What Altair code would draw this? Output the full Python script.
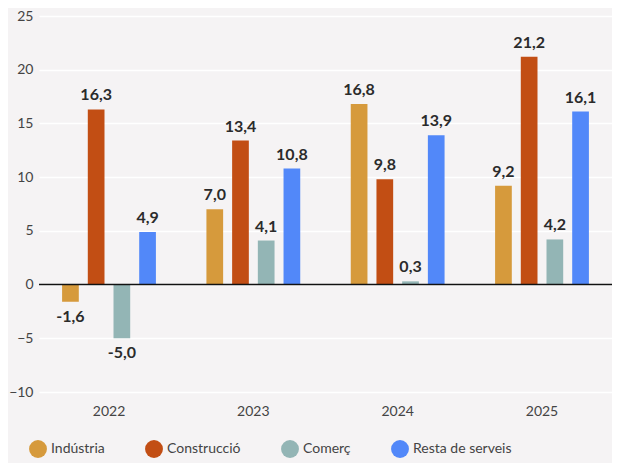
import altair as alt
import pandas as pd

years = ["2022", "2023", "2024", "2025"]
series = ["Indústria", "Construcció", "Comerç", "Resta de serveis"]
colors = ["#d69a3c", "#c24e14", "#93b5b5", "#5288f9"]

industria = [-1.6, 7.0, 16.8, 9.2]
construccio = [16.3, 13.4, 9.8, 21.2]
comerc = [-5.0, 4.1, 0.3, 4.2]
resta = [4.9, 10.8, 13.9, 16.1]

y_ticks = [-10, -5, 0, 5, 10, 15, 20, 25]

rows = []
for s, vals in zip(series, [industria, construccio, comerc, resta]):
    for yr, v in zip(years, vals):
        rows.append({"year": yr, "series": s, "value": v,
                     "label": f"{v:.1f}".replace(".", ",")})
df = pd.DataFrame(rows)

FONT = "Lato"

x = alt.X("year:N", sort=years,
          scale=alt.Scale(paddingInner=0.35, paddingOuter=0.16),
          axis=alt.Axis(title=None, labelAngle=0, domain=False, ticks=False,
                        labelPadding=12, labelFontSize=14, labelColor="#444444",
                        labelFont=FONT))
xoff = alt.XOffset("series:N", sort=series,
                   scale=alt.Scale(paddingInner=0.35, paddingOuter=0))
y = alt.Y("value:Q", scale=alt.Scale(domain=[-10, 25], nice=False),
          axis=alt.Axis(title=None, values=y_ticks, domain=False, ticks=False,
                        labelPadding=6, gridColor="white", gridWidth=1.5,
                        labelFontSize=14, labelColor="#444444", labelFont=FONT))
color = alt.Color("series:N", sort=series,
                  scale=alt.Scale(domain=series, range=colors),
                  legend=alt.Legend(title=None, orient="none", direction="horizontal",
                                    legendX=-10, legendY=424,
                                    symbolType="circle", symbolSize=320,
                                    symbolStrokeWidth=0, labelFontSize=14,
                                    labelColor="#444444", labelFont=FONT,
                                    labelOffset=4, columnPadding=40))

base = alt.Chart(df)
bars = base.mark_bar().encode(x=x, xOffset=xoff, y=y, color=color)
pos_text = base.transform_filter("datum.value >= 0").mark_text(
    baseline="bottom", dy=-6, fontWeight="bold", fontSize=16, color="#2b2b2b", font=FONT
).encode(x=x, xOffset=xoff, y=y, text="label:N")
neg_text = base.transform_filter("datum.value < 0").mark_text(
    baseline="top", dy=7, fontWeight="bold", fontSize=16, color="#2b2b2b", font=FONT
).encode(x=x, xOffset=xoff, y=y, text="label:N")
zero = alt.Chart(pd.DataFrame({"v": [0]})).mark_rule(color="#111111", strokeWidth=1.5).encode(y="v:Q")

chart = alt.layer(bars, zero, pos_text, neg_text).properties(
    width=573, height=376,
    autosize="none",
    padding={"left": 31, "top": 8, "right": 0, "bottom": 71},
    background="#f5f3f4",
).configure_view(stroke=None)

chart.save("out.html", embed_options={"renderer": "svg", "actions": False})
